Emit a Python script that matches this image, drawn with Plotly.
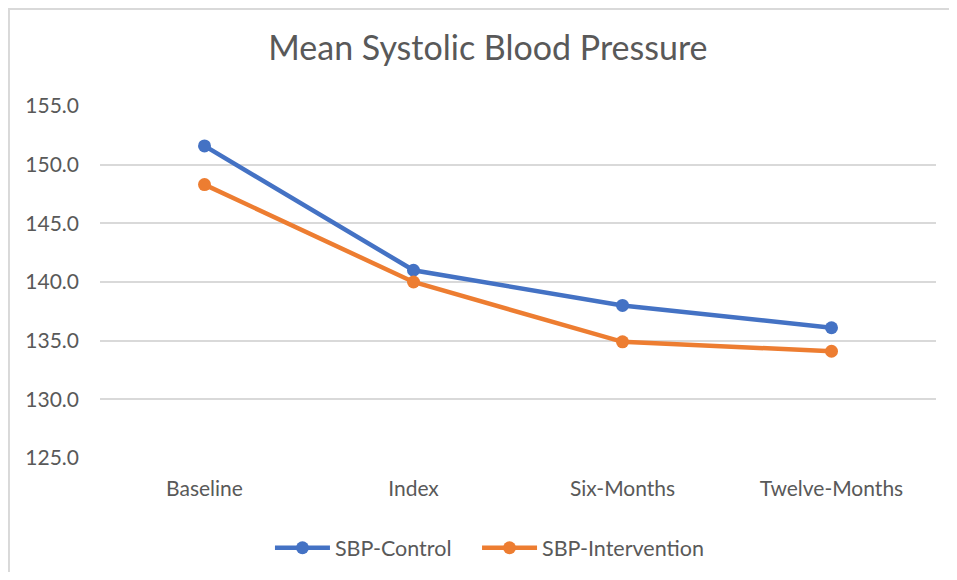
import plotly.graph_objects as go

categories = ["Baseline", "Index", "Six-Months", "Twelve-Months"]
sbp_control = [151.6, 141.0, 138.0, 136.1]
sbp_intervention = [148.3, 140.0, 134.9, 134.1]
y_ticks = [125, 130, 135, 140, 145, 150, 155]
y_tick_labels = [f"{v:.1f}" for v in y_ticks]

FONT = "Lato, 'Open Sans', sans-serif"
GRAY = "#595959"

fig = go.Figure()
fig.add_trace(go.Scatter(
    x=categories, y=sbp_control, name="SBP-Control", mode="lines+markers",
    line=dict(color="#4472C4", width=4.5), marker=dict(size=13, color="#4472C4"),
    legend="legend"))
fig.add_trace(go.Scatter(
    x=categories, y=sbp_intervention, name="SBP-Intervention", mode="lines+markers",
    line=dict(color="#ED7D31", width=4.5), marker=dict(size=13, color="#ED7D31"),
    legend="legend2"))

legend_style = dict(orientation="h", xanchor="left", y=-0.255, yanchor="middle",
                    font=dict(size=21.5, color=GRAY), itemwidth=55,
                    bgcolor="rgba(0,0,0,0)")

fig.update_layout(
    width=941, height=564,
    margin=dict(l=92, r=13, t=98, b=114, autoexpand=False),
    paper_bgcolor="white", plot_bgcolor="white",
    font=dict(family=FONT, color=GRAY, size=21),
    title=dict(text="Mean Systolic Blood Pressure", x=0.51, xanchor="center",
               y=0.929, yanchor="middle",
               font=dict(family=FONT, size=34, color=GRAY)),
    xaxis=dict(type="category", range=[-0.5, 3.5], showgrid=False, showline=False,
               zeroline=False, ticks="", tickfont=dict(size=21, color=GRAY),
               ticklabelstandoff=16),
    yaxis=dict(range=[125, 155], tickvals=y_ticks, ticktext=y_tick_labels,
               showgrid=True, gridcolor="#D9D9D9", gridwidth=2, zeroline=False,
               showline=False, ticks="", tickfont=dict(size=21, color=GRAY),
               ticklabelstandoff=20),
    legend=dict(x=0.2033, **legend_style),
    legend2=dict(x=0.451, **legend_style),
    showlegend=True,
)
fig.add_shape(type="rect", xref="paper", yref="paper",
              x0=-0.1089, x1=1.1, y0=-0.5, y1=1.2756,
              line=dict(color="#D9D9D9", width=2), layer="below")
fig.write_html("out.html")
